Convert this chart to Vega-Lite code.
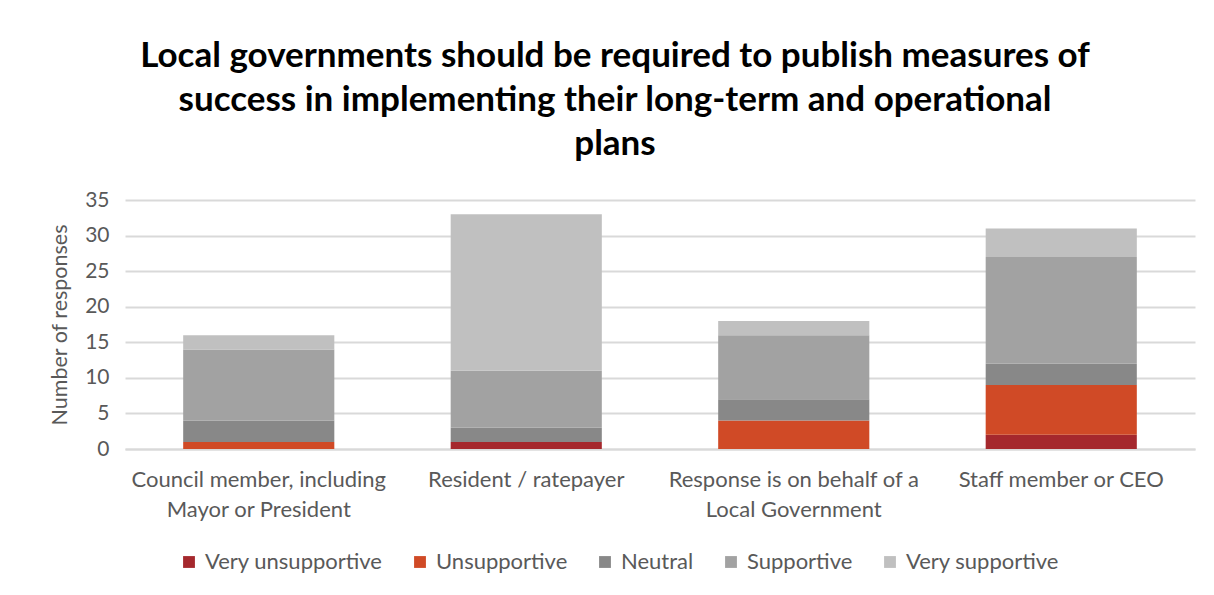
{
  "$schema": "https://vega.github.io/schema/vega-lite/v6.json",
  "width": 1070,
  "height": 249,
  "autosize": {"type": "none"},
  "padding": {"left": 125, "top": 200, "right": 19, "bottom": 146},
  "background": "white",
  "title": {
    "text": ["Local governments should be required to publish measures of", "success in implementing their long-term and operational", "plans"],
    "font": "Lato",
    "fontSize": 35,
    "fontWeight": "bold",
    "color": "#000000",
    "lineHeight": 44,
    "anchor": "middle",
    "dx": -45,
    "offset": 27
  },
  "data": {
    "values": [
      {"group": "Council member, including Mayor or President", "response": "Very unsupportive", "count": 0},
      {"group": "Council member, including Mayor or President", "response": "Unsupportive", "count": 1},
      {"group": "Council member, including Mayor or President", "response": "Neutral", "count": 3},
      {"group": "Council member, including Mayor or President", "response": "Supportive", "count": 10},
      {"group": "Council member, including Mayor or President", "response": "Very supportive", "count": 2},
      {"group": "Resident / ratepayer", "response": "Very unsupportive", "count": 1},
      {"group": "Resident / ratepayer", "response": "Unsupportive", "count": 0},
      {"group": "Resident / ratepayer", "response": "Neutral", "count": 2},
      {"group": "Resident / ratepayer", "response": "Supportive", "count": 8},
      {"group": "Resident / ratepayer", "response": "Very supportive", "count": 22},
      {"group": "Response is on behalf of a Local Government", "response": "Very unsupportive", "count": 0},
      {"group": "Response is on behalf of a Local Government", "response": "Unsupportive", "count": 4},
      {"group": "Response is on behalf of a Local Government", "response": "Neutral", "count": 3},
      {"group": "Response is on behalf of a Local Government", "response": "Supportive", "count": 9},
      {"group": "Response is on behalf of a Local Government", "response": "Very supportive", "count": 2},
      {"group": "Staff member or CEO", "response": "Very unsupportive", "count": 2},
      {"group": "Staff member or CEO", "response": "Unsupportive", "count": 7},
      {"group": "Staff member or CEO", "response": "Neutral", "count": 3},
      {"group": "Staff member or CEO", "response": "Supportive", "count": 15},
      {"group": "Staff member or CEO", "response": "Very supportive", "count": 4}
    ]
  },
  "mark": {"type": "bar", "stroke": "white", "strokeWidth": 0},
  "encoding": {
    "x": {
      "field": "group",
      "type": "nominal",
      "sort": null,
      "scale": {"paddingInner": 0.435, "paddingOuter": 0.2175},
      "axis": {
        "title": null,
        "labelAngle": 0,
        "labelFont": "Lato",
        "labelFontSize": 22,
        "labelColor": "#595959",
        "labelLineHeight": 30,
        "labelPadding": 20,
        "labelLimit": 400,
        "ticks": false,
        "domainColor": "#D9D9D9",
        "domainWidth": 2,
        "labelExpr": "datum.value == 'Council member, including Mayor or President' ? ['Council member, including', 'Mayor or President'] : datum.value == 'Response is on behalf of a Local Government' ? ['Response is on behalf of a', 'Local Government'] : datum.value"
      }
    },
    "y": {
      "field": "count",
      "type": "quantitative",
      "stack": "zero",
      "scale": {"domain": [0, 35]},
      "axis": {
        "title": "Number of responses",
        "titleFont": "Lato",
        "titleFontSize": 21.5,
        "titleFontWeight": "normal",
        "titleColor": "#595959",
        "titlePadding": 13,
        "values": [0, 5, 10, 15, 20, 25, 30, 35],
        "labelFont": "Lato",
        "labelFontSize": 21,
        "labelColor": "#595959",
        "labelPadding": 16,
        "ticks": false,
        "domain": false,
        "gridColor": "#D9D9D9",
        "gridWidth": 2
      }
    },
    "color": {
      "field": "response",
      "type": "nominal",
      "scale": {
        "domain": ["Very unsupportive", "Unsupportive", "Neutral", "Supportive", "Very supportive"],
        "range": ["#A5282D", "#D04A26", "#888888", "#A2A2A2", "#C0C0C0"]
      },
      "legend": {
        "title": null,
        "orient": "none",
        "direction": "horizontal",
        "gridAlign": "none",
        "legendX": 53,
        "legendY": 351,
        "symbolType": "square",
        "symbolSize": 140,
        "symbolStrokeWidth": 0,
        "labelFont": "Lato",
        "labelFontSize": 22,
        "labelLimit": 400,
        "labelColor": "#595959",
        "labelOffset": 5,
        "columnPadding": 26
      }
    },
    "order": {"field": "order", "type": "quantitative"}
  },
  "transform": [
    {"calculate": "indexof(['Very unsupportive','Unsupportive','Neutral','Supportive','Very supportive'], datum.response)", "as": "order"}
  ],
  "config": {"view": {"stroke": null}}
}
